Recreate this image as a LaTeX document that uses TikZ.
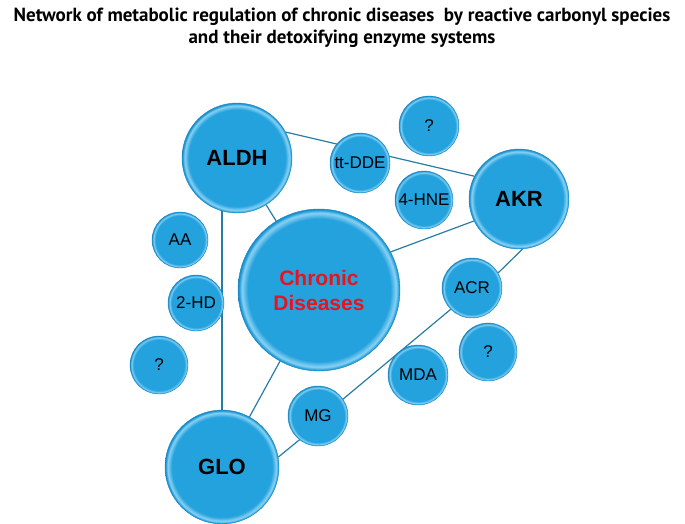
\documentclass[tikz,border=0pt]{standalone}
\usepackage{fontspec}
\setmainfont{Liberation Sans}
\newfontfamily\titlefont{PT Sans}
\usetikzlibrary{backgrounds}
\definecolor{bub}{RGB}{36,162,222}
\definecolor{bubl}{RGB}{140,210,243}
\definecolor{bubd}{RGB}{25,135,195}
\definecolor{linkc}{RGB}{40,125,165}
\definecolor{redtxt}{RGB}{230,20,30}
\pgfdeclareradialshading{bubshade}{\pgfpoint{0bp}{0bp}}{color(0bp)=(bub); color(22bp)=(bub); color(23.8bp)=(bubl); color(24.6bp)=(bub); color(25bp)=(bubd); color(50bp)=(bubd)}
\tikzset{
  bubble/.style={circle, shading=bubshade, draw=bubd, line width=0.4pt, inner sep=0pt, text=black, font=\fontsize{17}{19}\selectfont},
  big/.style={font=\fontsize{22}{24}\selectfont\bfseries},
  link/.style={draw=linkc, line width=1.2pt},
}
\begin{document}
\begin{tikzpicture}[x=1pt,y=-1pt]
\useasboundingbox (0,0) rectangle (685,524);
\node[font=\titlefont\fontsize{19}{22}\selectfont\bfseries, align=center] (title) at (342,28)
  {Network of metabolic regulation of chronic diseases\ \ by reactive carbonyl species\\[0pt] and their detoxifying enzyme systems};
% bubbles
\node[bubble, big, minimum size=110] (ALDH) at (237,158) {ALDH};
\node[bubble, minimum size=162, font=\fontsize{21}{25}\selectfont\bfseries, text=redtxt, align=center] (CD) at (319,290) {Chronic\\Diseases};
\node[bubble, big, minimum size=100] (AKR) at (519,199) {AKR};
\node[bubble, big, minimum size=114] (GLO) at (222,467) {GLO};
\node[bubble, minimum size=60] (DDE) at (360,163) {tt-DDE};
\node[bubble, minimum size=60] (q1) at (429,126) {?};
\node[bubble, minimum size=58] (HNE) at (424,200) {4-HNE};
\node[bubble, minimum size=56] (AA) at (180,240) {AA};
\node[bubble, minimum size=56] (HD) at (196,303) {2-HD};
\node[bubble, minimum size=58] (q2) at (159,365) {?};
\node[bubble, minimum size=60] (ACR) at (472,288) {ACR};
\node[bubble, minimum size=58] (q3) at (488,352) {?};
\node[bubble, minimum size=60] (MDA) at (418,375) {MDA};
\node[bubble, minimum size=60] (MG) at (318,416) {MG};
% links
\begin{scope}[on background layer]
\draw[link] (ALDH.28) -- (AKR.153);
\draw[link] (ALDH) -- (CD);
\draw[link] (GLO.north) -- (GLO.north |- ALDH.center);
\draw[link] (CD.28) -- (AKR.206);
\draw[link] (CD) -- (GLO);
\draw[link] (GLO.10) -- (MG.232);
\draw[link] (MG.34) -- (ACR.225);
\draw[link] (ACR.30) -- (AKR.274);
\end{scope}
\end{tikzpicture}
\end{document}
